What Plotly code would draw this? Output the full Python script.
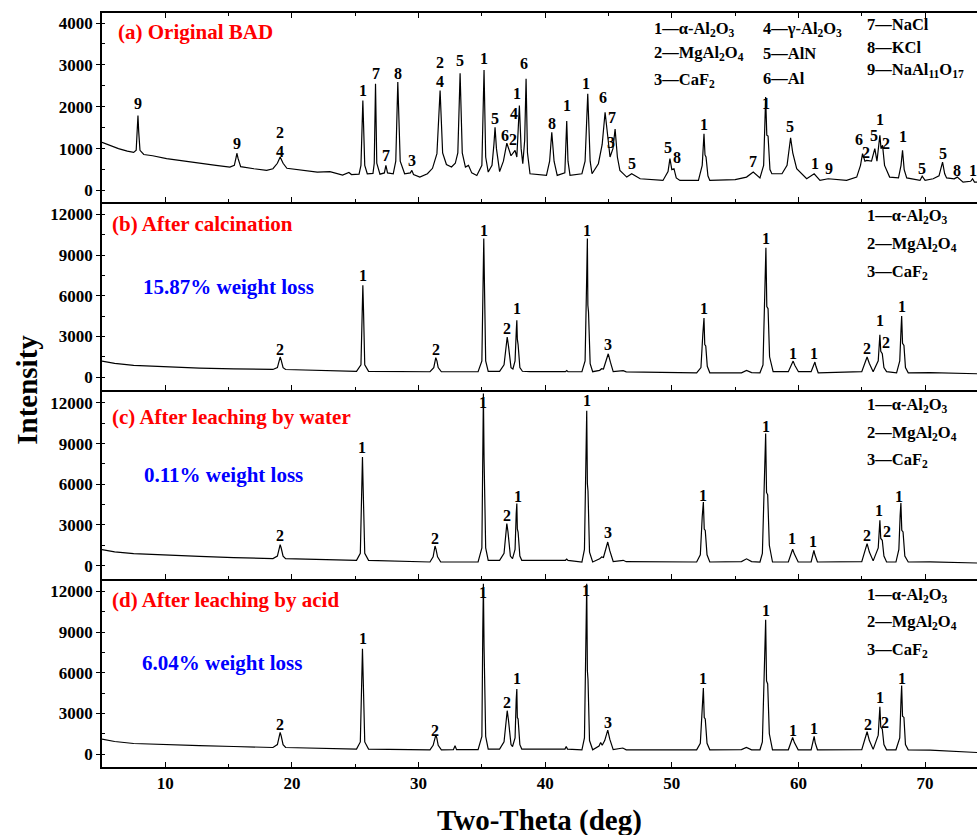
import plotly.graph_objects as go
from plotly.subplots import make_subplots

# ---------------- data ----------------
pattern_a = [(5.0,1150),(5.6,1080),(6.3,1000),(7.0,940),(7.5,910),(7.7,960),(7.8,1500),(7.84,1790),(7.9,1400),(8.0,960),
 (8.3,860),(9.0,830),(10.1,760),(11.5,700),(12.8,640),(14.0,600),(15.1,560),(15.45,600),(15.6,800),(15.65,890),(15.75,760),
 (15.95,570),(17.0,520),(18.0,480),(18.5,520),(18.85,650),(19.07,800),(19.3,650),(19.6,530),(20.5,490),(22.0,440),(23.0,450),
 (24.0,370),(24.5,430),(24.7,380),(25.3,390),(25.45,600),(25.6,2150),(25.75,600),(25.95,400),(26.4,410),(26.5,650),(26.6,2550),
 (26.7,650),(26.95,390),(27.3,420),(27.42,600),(27.55,420),(28.0,400),(28.2,700),(28.36,2590),(28.55,700),(28.9,400),(29.35,420),
 (29.47,480),(29.6,380),(30.1,320),(30.7,400),(31.1,530),(31.45,880),(31.7,2390),(31.9,900),(32.2,620),(32.6,560),(32.9,650),
 (33.1,900),(33.28,2800),(33.45,900),(33.7,560),(33.94,600),(34.2,420),(34.6,360),(35.0,600),(35.17,2880),(35.3,800),(35.5,440),
 (35.8,600),(35.95,1100),(36.04,1510),(36.15,1000),(36.4,450),(36.7,700),(36.97,1130),(37.3,830),(37.62,960),(37.76,800),
 (37.85,1400),(37.96,2030),(38.1,1000),(38.23,640),(38.38,1200),(38.49,2670),(38.6,900),(38.8,400),(40.1,360),(40.35,700),
 (40.52,1390),(40.7,700),(40.95,360),(41.55,420),(41.7,1660),(41.8,700),(41.96,360),(42.9,400),(43.15,700),(43.36,2310),
 (43.55,700),(43.7,400),(44.2,640),(44.5,1100),(44.73,1870),(44.95,1200),(45.12,800),(45.35,1000),(45.52,1470),(45.7,800),
 (45.9,480),(46.44,320),(46.83,400),(47.5,280),(49.3,240),(49.7,450),(49.85,760),(50.0,500),(50.17,520),(50.35,300),(50.64,240),
 (52.1,240),(52.4,600),(52.54,1355),(52.62,850),(52.7,800),(52.85,350),(53.0,240),(55.0,260),(55.9,320),(56.43,440),(56.96,300),
 (57.25,600),(57.41,2230),(57.5,1320),(57.6,1300),(57.75,500),(57.9,400),(58.7,400),(59.1,600),(59.38,1260),(59.55,900),
 (59.86,520),(60.65,280),(61.24,400),(61.7,240),(62.35,280),(63.8,240),(64.6,320),(64.9,600),(65.06,880),(65.25,700),
 (65.38,720),(65.77,700),(66.03,1000),(66.2,700),(66.43,1320),(66.52,1000),(66.64,1080),(66.8,600),(67.2,320),(67.9,300),
 (68.1,600),(68.22,960),(68.35,500),(68.55,300),(69.6,240),(69.77,340),(70.0,240),(70.64,280),(71.1,350),(71.38,680),
 (71.55,400),(71.7,300),(72.3,280),(72.54,320),(72.8,240),(73.0,200),(73.6,220),(73.75,280),(73.9,200),(74.1,200)]

pattern_b = [(5.0,1180),(6.0,1010),(7.5,865),(10.1,740),(12.7,670),(15.4,615),(18.5,565),(18.85,700),(19.0,1250),(19.07,1480),
 (19.15,1250),(19.3,700),(19.5,560),(22.0,480),(25.1,420),(25.45,900),(25.55,5000),(25.6,6780),(25.65,5000),(25.75,900),
 (26.05,420),(28.5,400),(30.9,395),(31.2,700),(31.3,1250),(31.36,1430),(31.45,1200),(31.55,700),(31.8,395),(34.7,400),
 (35.0,1200),(35.1,7500),(35.15,10230),(35.2,7000),(35.3,1200),(35.5,420),(36.4,420),(36.75,900),(36.9,2400),(37.0,2960),
 (37.1,2300),(37.3,700),(37.45,600),(37.62,1200),(37.72,3500),(37.76,4190),(37.8,2800),(37.86,2400),(38.0,700),(38.2,430),
 (38.8,400),(41.6,400),(41.7,480),(41.8,400),(42.9,395),(43.15,1200),(43.28,7500),(43.33,10230),(43.37,5300),(43.42,4800),
 (43.55,1000),(43.75,400),(44.3,500),(44.46,620),(44.6,600),(44.8,1200),(44.98,1720),(45.15,1100),(45.37,400),(46.16,480),
 (46.4,390),(51.96,320),(52.3,700),(52.45,3200),(52.54,4360),(52.6,2400),(52.68,2300),(52.8,800),(53.0,320),(55.5,320),
 (55.9,490),(56.3,330),(56.96,320),(57.2,900),(57.35,6500),(57.43,9540),(57.5,5200),(57.6,5050),(57.72,1500),(58.0,400),
 (59.2,400),(59.45,900),(59.58,1180),(59.72,850),(60.0,400),(61.0,400),(61.2,800),(61.3,1110),(61.38,800),(61.56,320),
 (65.0,400),(65.25,1000),(65.42,1480),(65.6,1000),(65.9,400),(66.3,1200),(66.43,3130),(66.5,1900),(66.62,1720),(66.75,700),
 (66.96,400),(67.75,320),(68.0,1200),(68.1,3500),(68.15,4510),(68.22,2500),(68.33,2340),(68.45,700),(68.67,320),(70.4,330),
 (74.1,250)]

pattern_c = [(5.0,1180),(6.0,1010),(7.5,886),(10.1,760),(12.7,680),(15.4,590),(18.5,517),(18.85,700),(19.0,1300),(19.07,1550),
 (19.15,1300),(19.3,700),(19.5,517),(22.0,450),(25.1,391),(25.4,900),(25.5,5500),(25.57,8015),(25.63,5500),(25.75,900),
 (26.05,391),(28.5,320),(30.9,266),(31.15,650),(31.24,1200),(31.3,1447),(31.38,1200),(31.5,650),(31.75,266),(34.7,270),
 (35.0,1300),(35.07,9000),(35.12,12700),(35.17,8000),(35.3,1300),(35.5,391),(36.4,391),(36.75,900),(36.88,2500),(36.97,3100),
 (37.06,2500),(37.25,700),(37.42,517),(37.62,1200),(37.71,3800),(37.76,4576),(37.8,2700),(37.86,2480),(38.0,700),(38.15,391),
 (41.6,391),(41.7,480),(41.8,391),(42.9,266),(43.1,1200),(43.22,8000),(43.28,11410),(43.33,6050),(43.38,5500),(43.5,1000),
 (43.75,266),(44.3,500),(44.46,640),(44.6,600),(44.8,1200),(44.94,1740),(45.1,1100),(45.37,300),(46.16,391),(46.4,290),
 (51.96,266),(52.25,800),(52.4,3600),(52.49,4694),(52.56,2700),(52.64,2600),(52.78,800),(53.0,266),(55.5,300),(55.9,500),
 (56.3,300),(56.96,266),(57.15,900),(57.33,7000),(57.41,9742),(57.48,5400),(57.57,5218),(57.7,1500),(57.95,266),(59.2,266),
 (59.4,900),(59.54,1203),(59.68,850),(59.98,266),(61.0,266),(61.15,800),(61.22,1130),(61.3,800),(61.5,266),(65.0,300),
 (65.25,1100),(65.42,1624),(65.6,1000),(65.9,350),(66.3,1300),(66.43,3343),(66.5,2000),(66.62,1867),(66.75,700),(66.96,266),
 (67.7,266),(67.93,1200),(68.03,3700),(68.09,4620),(68.16,2600),(68.26,2480),(68.4,700),(68.67,266),(70.4,280),(74.1,192)]

pattern_d = [(5.0,1109),(6.0,930),(7.5,784),(10.1,688),(12.7,620),(15.4,562),(18.5,488),(18.85,700),(19.0,1350),(19.07,1597),
 (19.15,1350),(19.3,700),(19.5,488),(22.0,420),(25.1,370),(25.4,900),(25.5,5500),(25.57,7763),(25.63,5500),(25.75,900),
 (26.05,370),(28.5,340),(30.9,318),(31.15,650),(31.28,1200),(31.36,1405),(31.44,1200),(31.55,650),(31.8,318),(32.75,330),
 (32.88,614),(33.0,330),(34.7,330),(35.0,1300),(35.07,9000),(35.12,12569),(35.17,8000),(35.3,1300),(35.5,370),(36.4,370),
 (36.75,900),(36.9,2600),(37.0,3202),(37.1,2500),(37.3,700),(37.42,560),(37.62,1200),(37.71,4000),(37.76,4806),(37.8,2700),
 (37.86,2588),(38.0,700),(38.15,370),(41.56,370),(41.66,560),(41.76,370),(42.9,318),(43.1,1200),(43.22,9000),(43.28,12569),
 (43.33,6159),(43.38,5500),(43.5,1000),(43.75,318),(44.25,600),(44.38,858),(44.5,650),(44.7,1000),(44.94,1775),(45.1,1100),
 (45.37,330),(46.13,450),(46.4,318),(51.96,318),(52.25,800),(52.4,3700),(52.49,4880),(52.56,2700),(52.64,2588),(52.78,800),
 (53.0,318),(55.5,330),(55.89,488),(56.3,320),(56.96,318),(57.15,900),(57.33,7200),(57.41,9907),(57.48,5400),(57.57,5175),
 (57.7,1500),(57.95,318),(59.2,318),(59.4,900),(59.54,1227),(59.68,850),(59.98,318),(61.0,318),(61.15,900),(61.24,1301),
 (61.32,850),(61.5,318),(65.0,330),(65.25,1100),(65.42,1649),(65.6,1000),(65.9,350),(66.3,1400),(66.43,3497),(66.5,2000),
 (66.62,1848),(66.75,700),(66.96,318),(67.7,318),(68.0,1200),(68.1,4000),(68.15,5050),(68.22,2800),(68.33,2706),(68.45,700),
 (68.67,318),(70.4,300),(74.1,118)]

# peak labels: (two-theta, intensity, phase number)
labels_a = [(7.84,2073,"9"),(15.65,1124,"9"),(19.07,1390,"2"),(19.07,940,"4"),(25.6,2391,"1"),(26.6,2790,"7"),(27.42,837,"7"),
 (28.36,2790,"8"),(29.47,717,"3"),(31.7,3050,"2"),(31.7,2610,"4"),(33.28,3109,"5"),(35.17,3149,"1"),(36.0,1728,"5"),
 (36.83,1315,"6"),(37.44,1212,"2"),(37.54,1833,"4"),(37.76,2311,"1"),(38.36,3029,"6"),(40.52,1610,"8"),(41.7,2032,"1"),
 (43.22,2566,"1"),(44.54,2215,"6"),(45.25,1737,"7"),(45.17,1155,"3"),(46.83,638,"5"),(49.72,1036,"5"),(50.38,797,"8"),
 (52.54,1578,"1"),(56.38,701,"7"),(57.41,2073,"1"),(59.33,1530,"5"),(61.3,654,"1"),(62.4,518,"9"),(64.8,1230,"6"),
 (65.36,910,"2"),(65.98,1315,"5"),(66.43,1690,"1"),(66.9,1131,"2"),(68.27,1291,"1"),(69.77,518,"5"),(71.42,877,"5"),
 (72.53,478,"8"),(73.75,478,"1")]
labels_b = [(19.07,2048,"2"),(25.6,7518,"1"),(31.36,2048,"2"),(35.17,10844,"1"),(36.97,3578,"2"),(37.76,5056,"1"),
 (43.33,10844,"1"),(44.98,2395,"3"),(52.54,5056,"1"),(57.43,10230,"1"),(59.58,1725,"1"),(61.24,1725,"1"),
 (65.38,2099,"2"),(66.43,4191,"1"),(66.9,2587,"2"),(68.15,5174,"1")]
labels_c = [(19.07,2236,"2"),(25.57,8679,"1"),(31.3,1993,"2"),(35.12,12000,"1"),(36.97,3712,"2"),(37.85,5063,"1"),
 (43.28,12148,"1"),(44.98,2406,"3"),(52.49,5188,"1"),(57.43,10229,"1"),(59.46,1993,"1"),(61.17,1793,"1"),
 (65.42,2236,"2"),(66.35,4030,"1"),(66.96,2480,"2"),(67.96,5114,"1")]
labels_d = [(19.07,2218,"2"),(25.62,8503,"1"),(31.3,1775,"2"),(35.12,11948,"1"),(36.97,3815,"2"),(37.8,5590,"1"),
 (43.22,12074,"1"),(44.98,2336,"3"),(52.49,5545,"1"),(57.43,10595,"1"),(59.54,1775,"1"),(61.24,1922,"1"),
 (65.47,2166,"2"),(66.43,4185,"1"),(66.8,2336,"2"),(68.2,5545,"1")]

panel_titles = ["(a) Original BAD", "(b) After calcination", "(c) After leaching by water", "(d) After leaching by acid"]
weight_loss = [None, "15.87% weight loss", "0.11% weight loss", "6.04% weight loss"]
legend_a = [["1—α-Al<sub>2</sub>O<sub>3</sub>", "2—MgAl<sub>2</sub>O<sub>4</sub>", "3—CaF<sub>2</sub>"],
            ["4—γ-Al<sub>2</sub>O<sub>3</sub>", "5—AlN", "6—Al"],
            ["7—NaCl", "8—KCl", "9—NaAl<sub>11</sub>O<sub>17</sub>"]]
legend_bcd = ["1—α-Al<sub>2</sub>O<sub>3</sub>", "2—MgAl<sub>2</sub>O<sub>4</sub>", "3—CaF<sub>2</sub>"]
x_ticks = [10, 20, 30, 40, 50, 60, 70]
y_ticks_a = [0, 1000, 2000, 3000, 4000]
y_ticks_bcd = [0, 3000, 6000, 9000, 12000]

# ---------------- figure ----------------
FONT = "Liberation Serif"
patterns = [pattern_a, pattern_b, pattern_c, pattern_d]
labels = [labels_a, labels_b, labels_c, labels_d]

fig = make_subplots(rows=4, cols=1, shared_xaxes=True, vertical_spacing=0)

for i, pat in enumerate(patterns):
    fig.add_trace(go.Scatter(x=[p[0] for p in pat], y=[p[1] for p in pat], mode="lines",
                             line=dict(color="black", width=1.2), showlegend=False, hoverinfo="skip"),
                  row=i + 1, col=1)

annotations = []
for i, labs in enumerate(labels):
    xr = "x" if i == 0 else f"x{i+1}"
    yr = "y" if i == 0 else f"y{i+1}"
    for (lx, ly, lt) in labs:
        annotations.append(dict(x=lx, y=ly, xref=xr, yref=yr, text=f"<b>{lt}</b>", showarrow=False,
                                font=dict(family=FONT, size=16, color="black"),
                                xanchor="center", yanchor="middle"))

# panel titles and weight losses (positions in axis-domain fractions)
title_pos = [(0.0163, 0.8975), (0.0095, 0.8817), (0.0095, 0.859), (0.0095, 0.8836)]
wl_pos = [None, (0.0446, 0.545), (0.0457, 0.55), (0.0438, 0.552)]
for i in range(4):
    xr = ("x" if i == 0 else f"x{i+1}") + " domain"
    yr = ("y" if i == 0 else f"y{i+1}") + " domain"
    annotations.append(dict(x=title_pos[i][0], y=title_pos[i][1], xref=xr, yref=yr,
                            text=f"<b>{panel_titles[i]}</b>", showarrow=False,
                            font=dict(family=FONT, size=21, color="#ff0000"),
                            xanchor="left", yanchor="middle"))
    if weight_loss[i]:
        annotations.append(dict(x=wl_pos[i][0], y=wl_pos[i][1], xref=xr, yref=yr,
                                text=f"<b>{weight_loss[i]}</b>", showarrow=False,
                                font=dict(family=FONT, size=21, color="#0000ff"),
                                xanchor="left", yanchor="middle"))

# legends
leg_a_x = [0.628, 0.753, 0.872]
leg_a_y = [[0.917, 0.7876, 0.6426], [0.917, 0.7876, 0.655], [0.94, 0.8195, 0.6957]]
for c in range(3):
    for r in range(3):
        annotations.append(dict(x=leg_a_x[c], y=leg_a_y[c][r], xref="x domain", yref="y domain",
                                text=f"<b>{legend_a[c][r]}</b>", showarrow=False,
                                font=dict(family=FONT, size=16.5, color="black"),
                                xanchor="left", yanchor="middle"))
leg_y = [None, [0.922, 0.7756, 0.6252], [0.918, 0.771, 0.626], [0.915, 0.769, 0.623]]
for i in range(1, 4):
    for r in range(3):
        annotations.append(dict(x=0.872, y=leg_y[i][r], xref=f"x{i+1} domain", yref=f"y{i+1} domain",
                                text=f"<b>{legend_bcd[r]}</b>", showarrow=False,
                                font=dict(family=FONT, size=16.5, color="black"),
                                xanchor="left", yanchor="middle"))

# axis titles
annotations.append(dict(x=-0.086, y=0.5, xref="paper", yref="paper", text="<b>Intensity</b>", textangle=-90,
                        showarrow=False, font=dict(family=FONT, size=29, color="black"),
                        xanchor="center", yanchor="middle"))
annotations.append(dict(x=0.5, y=-0.0703, xref="paper", yref="paper", text="<b>Two-Theta (deg)</b>",
                        showarrow=False, font=dict(family=FONT, size=29, color="black"),
                        xanchor="center", yanchor="middle"))

fig.update_layout(width=977, height=835, margin=dict(l=102, r=0, t=13, b=68, autoexpand=False),
                  paper_bgcolor="white", plot_bgcolor="white", annotations=annotations,
                  font=dict(family=FONT, color="black"))

domains = [[0.75, 1.0], [0.5, 0.75], [0.25, 0.5], [0.0, 0.25]]
for i in range(4):
    fig.update_xaxes(row=i + 1, col=1, range=[5, 74.1], showline=True, linecolor="black", linewidth=1.5,
                     mirror="ticks" if i == 0 else False, ticks="inside", ticklen=5, tickwidth=1.2,
                     tickcolor="black", tickvals=x_ticks, ticktext=[f"<b>{t}</b>" for t in x_ticks],
                     showgrid=False, zeroline=False, automargin=False,
                     minor=dict(ticks="inside", ticklen=3, dtick=5, tick0=5, tickcolor="black", showgrid=False),
                     showticklabels=(i == 3),
                     tickfont=dict(family=FONT, size=17, color="black"))
    yt = y_ticks_a if i == 0 else y_ticks_bcd
    fig.update_yaxes(row=i + 1, col=1, domain=domains[i], showline=True, linecolor="black", linewidth=1.5,
                     mirror=False, ticks="outside", ticklen=4, tickwidth=1.2, tickcolor="black",
                     showgrid=False, zeroline=False, automargin=False,
                     range=[-263, 4240] if i == 0 else [-950, 12950],
                     tickvals=yt, ticktext=[f"<b>{t}</b>" for t in yt],
                     minor=dict(ticks="inside", ticklen=3, dtick=500 if i == 0 else 1500, tick0=0,
                                tickcolor="black", showgrid=False),
                     tickfont=dict(family=FONT, size=17, color="black"))

fig.write_html("out.html", config={"displayModeBar": False},
               post_script="document.body.style.margin='0';document.body.style.padding='0';")
